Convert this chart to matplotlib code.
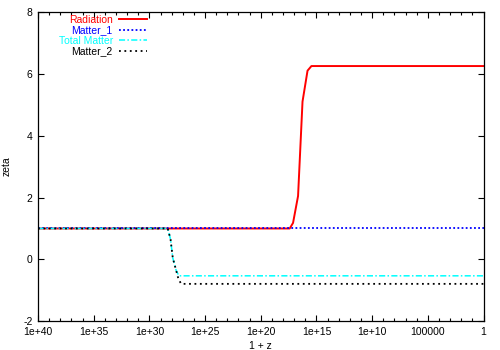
import matplotlib
matplotlib.use("Agg")
import matplotlib.pyplot as plt
import matplotlib.ticker as mticker
import numpy as np

plt.rcParams["font.family"] = ["Liberation Sans", "DejaVu Sans"]

# log10(1 + z) sample points and zeta values
RAD_LOGZ = [40, 17.4, 17.1, 16.65, 16.25, 15.8, 15.45, 0]
RAD_ZETA = [1.0, 1.0, 1.18, 2.05, 5.1, 6.1, 6.25, 6.25]

M1_LOGZ = [40, 0]
M1_ZETA = [1.0, 1.0]

TOT_LOGZ = [40, 28.35, 28.1, 27.9, 27.6, 27.35, 0]
TOT_ZETA = [1.0, 1.0, 0.65, 0.05, -0.35, -0.53, -0.53]

M2_LOGZ = [40, 28.35, 28.1, 27.9, 27.6, 27.4, 27.15, 0]
M2_ZETA = [1.0, 1.0, 0.65, 0.05, -0.35, -0.62, -0.79, -0.79]

X_TICK_EXP = [40, 35, 30, 25, 20, 15, 10, 5, 0]
X_TICK_LABELS = ["1e+40", "1e+35", "1e+30", "1e+25", "1e+20", "1e+15",
                 "1e+10", "100000", "1"]
Y_TICKS = [-2, 0, 2, 4, 6, 8]

FS = 7.5

fig = plt.figure(figsize=(5, 3.5), dpi=100)
ax = fig.add_axes([0.076, 0.082, 0.891, 0.884])

ax.plot(np.power(10.0, RAD_LOGZ), RAD_ZETA, color="#ff0000", lw=1.4,
        label="Radiation")
ax.plot(np.power(10.0, M1_LOGZ), M1_ZETA, color="#0000ff", lw=1.3,
        ls=(0, (1, 1.3)), label="Matter_1")
ax.plot(np.power(10.0, TOT_LOGZ), TOT_ZETA, color="#00ffff", lw=1.1,
        ls=(0, (4, 1.5, 1, 1.5)), label="Total Matter")
ax.plot(np.power(10.0, M2_LOGZ), M2_ZETA, color="black", lw=1.3,
        ls=(0, (1, 2)), label="Matter_2")

ax.set_xscale("log")
ax.set_xlim(1e40, 1)
ax.set_ylim(-2, 8)

ax.xaxis.set_major_locator(mticker.FixedLocator([10.0 ** e for e in X_TICK_EXP]))
ax.xaxis.set_major_formatter(mticker.FixedFormatter(X_TICK_LABELS))
ax.xaxis.set_minor_locator(mticker.FixedLocator([10.0 ** e for e in range(41)]))
ax.xaxis.set_minor_formatter(mticker.NullFormatter())
ax.set_yticks(Y_TICKS)
ax.yaxis.set_major_formatter(mticker.FuncFormatter(lambda v, _: f"{v:g}"))

ax.tick_params(which="both", direction="in", top=True, right=True,
               labelsize=FS, width=0.8, pad=4)
ax.tick_params(which="major", length=4)
ax.tick_params(which="minor", length=2.2)
for sp in ax.spines.values():
    sp.set_linewidth(0.9)

ax.set_xlabel("1 + z", fontsize=FS, labelpad=3)
ax.set_ylabel("zeta", fontsize=FS, labelpad=8)

# markerfirst=False right-aligns the labels against the sample lines
ax.legend(loc="upper right", bbox_to_anchor=(0.245, 0.99),
          frameon=False, fontsize=FS, markerfirst=False,
          handlelength=2.7, handletextpad=0.6, labelspacing=0.05,
          borderpad=0, borderaxespad=0,
          labelcolor=["#ff0000", "#0000ff", "#00ffff", "black"])

fig.savefig("out.png", dpi=100)
